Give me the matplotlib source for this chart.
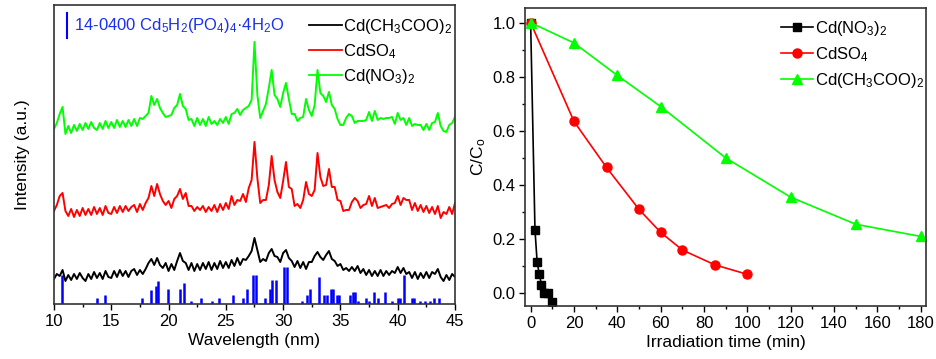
import numpy as np
import matplotlib
matplotlib.use('Agg')
import matplotlib.pyplot as plt
from matplotlib.ticker import MultipleLocator

plt.rcParams['font.family'] = ['Liberation Sans', 'DejaVu Sans']
plt.rcParams['mathtext.fontset'] = 'custom'
plt.rcParams['mathtext.rm'] = 'Liberation Sans'
plt.rcParams['mathtext.it'] = 'Liberation Sans:italic'
plt.rcParams['mathtext.bf'] = 'Liberation Sans:bold'

# ---------------- XRD data (left panel) ----------------
two_theta = np.linspace(10, 45, 141)

xrd_acetate = [
    25, 30, 28, 34,   23, 29, 24, 30,   25, 31, 26, 23,   30, 25, 32, 26,
    31, 25, 33, 27,   26, 33, 27, 34,   28, 33, 27, 33,   35, 29, 34, 30,
    35, 41, 45, 39,   46, 39, 36, 41,   33, 40, 34, 43,   51, 43, 41, 34,
    41, 33, 40, 34,   41, 35, 42, 34,   41, 35, 43, 36,   42, 36, 44, 38,
    46, 39, 45, 44,   48, 53, 66, 54,   42, 45, 43, 51,   55, 48, 47, 42,
    51, 54, 46, 43,   37, 43, 36, 42,   35, 42, 42, 48,   52, 47, 44, 49,
    53, 45, 43, 38,   40, 34, 36, 33,   37, 33, 38, 31,   35, 29, 34, 28,
    33, 28, 34, 28,   33, 29, 33, 31,   37, 31, 36, 30,   32, 26, 32, 25,
    31, 26, 32, 26,   32, 30, 35, 27,   23, 29, 24, 30,   27]

xrd_sulfate = [
    93, 99, 108, 111,  93, 88, 95, 87,   94, 88, 96, 89,   95, 89, 97, 90,
    96, 89, 98, 91,    90, 97, 91, 98,   92, 98, 93, 97,   99, 92, 100, 94,
    101, 106, 118, 108, 120, 110, 103, 99, 103, 96, 105, 108, 115, 105, 111, 98,
    98, 93, 97, 94,    98, 92, 97, 93,   99, 92, 100, 94,  101, 95, 108, 99,
    104, 103, 110, 102, 116, 124, 162, 126, 101, 104, 104, 119, 148, 124, 112, 106,
    123, 142, 117, 115, 98, 100, 96, 104, 122, 110, 108, 114, 151, 127, 118, 119,
    135, 117, 117, 104, 103, 93, 94, 94, 102, 106, 103, 96, 99, 100, 108, 98,
    106, 96, 97, 98,   99, 96, 100, 101, 108, 99, 106, 104, 104, 94, 101, 93,
    99, 92, 98, 91,    97, 90, 98, 86,   92, 90, 97, 90,   101]

xrd_nitrate = [
    175, 181, 190, 197, 170, 178, 171, 179, 173, 180, 174, 181, 175, 182, 176, 174,
    181, 175, 183, 176, 182, 176, 184, 177, 183, 177, 184, 178, 185, 178, 186, 185,
    188, 191, 208, 199, 205, 196, 191, 187, 188, 189, 196, 199, 210, 198, 195, 184,
    185, 178, 186, 179, 185, 178, 187, 180, 183, 179, 185, 181, 187, 180, 190, 191,
    195, 189, 194, 196, 198, 204, 262, 209, 186, 193, 200, 216, 234, 209, 205, 197,
    211, 221, 205, 190, 190, 183, 186, 187, 205, 194, 188, 199, 234, 211, 208, 202,
    212, 199, 195, 185, 179, 179, 186, 190, 188, 181, 183, 183, 183, 184, 192, 183,
    193, 184, 186, 185, 186, 186, 187, 180, 191, 184, 186, 179, 186, 178, 180, 179,
    179, 174, 180, 174, 181, 182, 191, 178, 173, 172, 179, 181, 187]

# JCPDS 14-0400 reference lines
ref_pos = [10.67, 13.75, 14.45, 17.7, 18.44, 18.87, 19.1, 19.98, 21.03, 21.38,
           21.96, 22.8, 23.79, 24.37, 25.62, 26.47, 26.87, 27.4, 27.6, 28.42,
           28.85, 29.06, 29.35, 30.08, 30.37, 31.65, 32.05, 32.32, 33.16, 33.6,
           33.8, 34.15, 34.35, 34.67, 34.88, 35.84, 36.13, 36.3, 36.56, 37.23,
           37.5, 37.9, 38.28, 38.86, 39.47, 40.0, 40.2, 40.58, 41.28, 41.45,
           41.95, 42.38, 42.82, 43.2, 43.6]
ref_int = [29, 6, 9, 6, 14, 18, 23, 15, 15, 21,
           3, 6, 3, 6, 9, 6, 15, 29, 29, 6,
           15, 24, 24, 37, 37, 3, 9, 15, 27, 9,
           9, 15, 15, 9, 9, 9, 12, 12, 3, 6,
           3, 12, 6, 12, 3, 6, 6, 29, 6, 6,
           3, 3, 3, 6, 6]

# ---------------- Degradation data (right panel) ----------------
t_nitrate = [0, 2, 3, 4, 5, 6, 8, 10]
c_nitrate = [1.0, 0.235, 0.115, 0.071, 0.031, 0.002, 0.0, -0.031]
t_sulfate = [0, 20, 35, 50, 60, 70, 85, 100]
c_sulfate = [1.0, 0.635, 0.465, 0.31, 0.225, 0.16, 0.105, 0.07]
t_acetate = [0, 20, 40, 60, 90, 120, 150, 180]
c_acetate = [1.0, 0.925, 0.805, 0.69, 0.5, 0.355, 0.255, 0.21]

GREEN = '#00ff00'
RED = '#ff0000'
BLUE = '#0000ff'

fig = plt.figure(figsize=(9.37, 3.59), dpi=100)
ax1 = fig.add_axes([0.0576, 0.1532, 0.428, 0.833])
ax2 = fig.add_axes([0.5603, 0.1476, 0.428, 0.830])

# ---- left panel ----
ax1.vlines(ref_pos, 0, ref_int, color=BLUE, lw=1.8)
ax1.plot(two_theta, xrd_acetate, color='black', lw=1.4, label='Cd(CH$_3$COO)$_2$')
ax1.plot(two_theta, xrd_sulfate, color=RED, lw=1.4, label='CdSO$_4$')
ax1.plot(two_theta, xrd_nitrate, color=GREEN, lw=1.4, label='Cd(NO$_3$)$_2$')
ax1.set_xlim(10, 45)
ax1.set_ylim(0, 299)
ax1.set_yticks([])
ax1.xaxis.set_major_locator(MultipleLocator(5))
ax1.xaxis.set_minor_locator(MultipleLocator(2.5))
ax1.tick_params(axis='x', which='major', direction='out', length=4, width=1, labelsize=12, pad=3)
ax1.tick_params(axis='x', which='minor', direction='out', length=2.5, width=1)
ax1.set_xlabel('Wavelength (nm)', fontsize=12.5, labelpad=3)
ax1.set_ylabel('Intensity (a.u.)', fontsize=12.5, labelpad=17)
leg1 = ax1.legend(loc='upper left', bbox_to_anchor=(0.628, 0.97), frameon=False,
                  fontsize=12, handlelength=1.95, handletextpad=0.1,
                  labelspacing=0.35, borderaxespad=0, borderpad=0.2)
for line in leg1.get_lines():
    line.set_linewidth(1.3)
ax1.plot([0.032, 0.032], [0.890, 0.973], color=BLUE, lw=1.5, transform=ax1.transAxes)
ax1.text(0.05, 0.932, '14-0400 Cd$_5$H$_2$(PO$_4$)$_4$·4H$_2$O', color='#1a30f0',
         fontsize=12, transform=ax1.transAxes, va='center', ha='left')

# ---- right panel ----
ax2.plot(t_nitrate, c_nitrate, color='black', lw=1.2, marker='s', ms=5.5,
         label='Cd(NO$_3$)$_2$')
ax2.plot(t_sulfate, c_sulfate, color=RED, lw=1.2, marker='o', ms=6.5,
         label='CdSO$_4$')
ax2.plot(t_acetate, c_acetate, color=GREEN, lw=1.2, marker='^', ms=7.5,
         label='Cd(CH$_3$COO)$_2$')
ax2.set_xlim(-2.6, 182.4)
ax2.set_ylim(-0.047, 1.054)
ax2.xaxis.set_major_locator(MultipleLocator(20))
ax2.xaxis.set_minor_locator(MultipleLocator(10))
ax2.yaxis.set_major_locator(MultipleLocator(0.2))
ax2.yaxis.set_minor_locator(MultipleLocator(0.1))
ax2.tick_params(which='major', direction='out', length=4, width=1, labelsize=12, pad=3)
ax2.tick_params(which='minor', direction='out', length=2.5, width=1)
ax2.set_xlabel('Irradiation time (min)', fontsize=12.5, labelpad=3)
ax2.set_ylabel('C/C$_\\mathrm{o}$', fontsize=12.5, labelpad=3)
ax2.legend(loc='upper left', bbox_to_anchor=(0.63, 0.975), frameon=False,
           fontsize=12, handlelength=1.9, handletextpad=0.15,
           labelspacing=0.42, borderaxespad=0, borderpad=0.2)

for ax in (ax1, ax2):
    for s in ax.spines.values():
        s.set_linewidth(1.2)
        s.set_color('#333333')

fig.savefig('out.png', dpi=100)
